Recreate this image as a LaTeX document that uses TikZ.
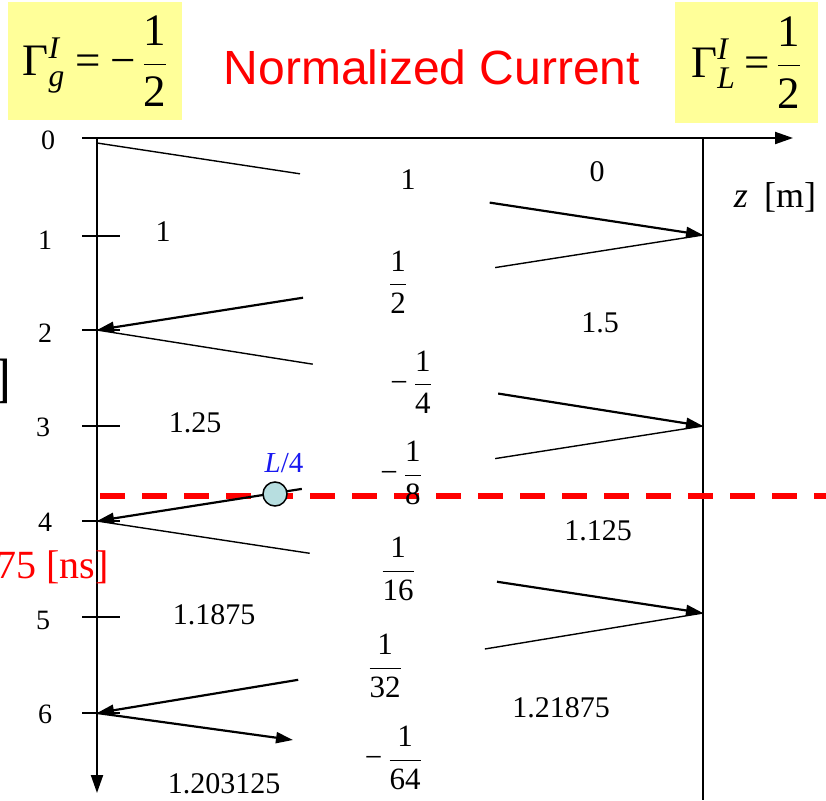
\RequirePackage{fix-cm}
\documentclass[tikz,border=0pt]{standalone}
\usepackage{fontspec}
\usepackage{amsmath}
\setmainfont{Liberation Serif}
\newfontfamily\titlefont{Liberation Sans}
\usetikzlibrary{arrows.meta,calc}
\definecolor{boxyellow}{RGB}{255,255,153}
\definecolor{dotfill}{RGB}{183,222,224}
\definecolor{lblue}{RGB}{25,25,240}
\newcommand{\fr}[2]{\dfrac{\text{#1}}{\rule{0pt}{24pt}\text{#2}}}
\newcommand{\bigfr}[2]{\dfrac{\text{#1}}{\text{#2}}}
\begin{document}
\begin{tikzpicture}[x=1pt,y=-1pt,
  formbox/.style={fill=boxyellow, inner sep=0pt, font=\fontsize{45}{50}\selectfont},
  numlbl/.style={inner sep=0pt, font=\fontsize{30}{36}\selectfont},
  fraclbl/.style={inner sep=0pt, font=\fontsize{31}{36}\selectfont},
  ticklbl/.style={inner sep=0pt, font=\fontsize{28}{32}\selectfont},
  axisline/.style={line width=2pt, -{Triangle[length=18pt,width=12pt]}},
  tickmark/.style={line width=1.5pt},
  thinray/.style={line width=1.4pt},
  ray/.style={line width=2.2pt, -{Triangle[length=17pt,width=11pt]}},
  timeline/.style={red, line width=6.5pt, dash pattern=on 25pt off 17pt}
]
\useasboundingbox (0,0) rectangle (826,800);

% formula boxes and title
\node[formbox, minimum width=174pt, minimum height=118pt] (gg) at (95,61)
  {$\text{Γ}^{\text{\itshape I}}_{\text{\itshape g}}\hspace{11pt}\text{=}\hspace{9pt}\text{−}\hspace{7pt}\bigfr{1}{2}$};
\node[formbox, minimum width=143pt, minimum height=121pt] (gl) at (746.5,62.5)
  {$\text{Γ}^{\text{\itshape I}}_{\text{\itshape L}}\hspace{9pt}\text{=}\hspace{7pt}\bigfr{1}{2}$};
\node[inner sep=0pt, text=red, font=\titlefont\fontsize{48}{56}\selectfont] (title) at (432,67) {Normalized Current};

% axes
\coordinate (O) at (97,138);
\coordinate (Zend) at (793,138);
\coordinate (Zstart) at (82,138);
\coordinate (Tend) at (97,793);
\coordinate (Ltop) at (703,138);
\coordinate (Lbot) at (703,800);
\draw[axisline] (Zstart) -- (Zend);
\draw[axisline] (O) -- (Tend);
\draw[line width=1.5pt] (Ltop) -- (Lbot);

% ticks
\foreach \t/\yy in {1/236,2/330,3/426,4/521,5/617,6/713}{
  \coordinate (ta\t) at (82,\yy);
  \coordinate (tb\t) at (120,\yy);
  \draw[tickmark] (ta\t) -- (tb\t);
}
\node[ticklbl] (k0) at (48,140) {0};
\node[ticklbl] (k1) at (45,240) {1};
\node[ticklbl] (k2) at (45,333) {2};
\node[ticklbl] (k3) at (43,427) {3};
\node[ticklbl] (k4) at (45,522) {4};
\node[ticklbl] (k5) at (43,620) {5};
\node[ticklbl] (k6) at (45,714) {6};

% time line t = 3.75 ns
\coordinate (D1) at (100,496);
\coordinate (D2) at (830,496);
\draw[timeline] (D1) -- (D2);

% bounce diagram
\coordinate (G0) at (97,143);
\coordinate (L1) at (703,235);
\coordinate (G2) at (97,330);
\coordinate (L3) at (703,426);
\coordinate (G4) at (97,521);
\coordinate (L5) at (703,613);
\coordinate (G6) at (97,713);
\coordinate (E7) at (293,740);
\draw[thinray] (G0) -- ($(G0)!0.335!(L1)$);
\draw[ray] ($(G0)!0.648!(L1)$) -- (L1);
\draw[thinray] (L1) -- ($(L1)!0.343!(G2)$);
\draw[ray] ($(L1)!0.66!(G2)$) -- (G2);
\draw[thinray] (G2) -- ($(G2)!0.356!(L3)$);
\draw[ray] ($(G2)!0.662!(L3)$) -- (L3);
\draw[thinray] (L3) -- ($(L3)!0.343!(G4)$);
\draw[ray] ($(L3)!0.662!(G4)$) -- (G4);
\draw[thinray] (G4) -- ($(G4)!0.351!(L5)$);
\draw[ray] ($(G4)!0.66!(L5)$) -- (L5);
\draw[thinray] (L5) -- ($(L5)!0.36!(G6)$);
\draw[ray] ($(L5)!0.668!(G6)$) -- (G6);
\draw[ray] (G6) -- (E7);

% observation point
\node[circle, draw=black, line width=1.5pt, fill=dotfill, minimum size=24pt, inner sep=0pt] (obs) at (275,494) {};
\node[inner sep=0pt, text=lblue, font=\fontsize{29}{34}\selectfont] (lq) at (284,463) {\textit{L}/4};

% labels
\node[inner sep=0pt, font=\fontsize{36}{40}\selectfont] (zl) at (775,197) {\textit{z}\hspace{0.45em}[m]};
\node[inner sep=0pt, anchor=east, font=\fontsize{54}{60}\selectfont] (tl) at (12,381) {]};
\node[inner sep=0pt, anchor=east, text=red, font=\fontsize{40}{46}\selectfont] (tr) at (109,567) {75 [ns]};

\node[numlbl] (v0) at (597,172) {0};
\node[numlbl] (i1) at (408,180) {1};
\node[numlbl] (v1) at (163,232) {1};
\node[fraclbl] (i2) at (398,282) {$\fr{1}{2}$};
\node[numlbl] (v2) at (600,323) {1.5};
\node[fraclbl, anchor=east] (i3) at (432,382) {$\text{−}\hspace{6pt}\fr{1}{4}$};
\node[numlbl] (v3) at (195,423) {1.25};
\node[fraclbl, anchor=east] (i4) at (422,473) {$\text{−}\hspace{6pt}\fr{1}{8}$};
\node[numlbl] (v4) at (598,531) {1.125};
\node[fraclbl] (i5) at (398,569) {$\fr{1}{16}$};
\node[numlbl] (v5) at (214,615) {1.1875};
\node[fraclbl] (i6) at (385,666) {$\fr{1}{32}$};
\node[numlbl] (v6) at (561,708) {1.21875};
\node[fraclbl, anchor=east] (i7) at (422,758) {$\text{−}\hspace{6pt}\fr{1}{64}$};
\node[numlbl] (v7) at (224,784) {1.203125};
\end{tikzpicture}
\end{document}
